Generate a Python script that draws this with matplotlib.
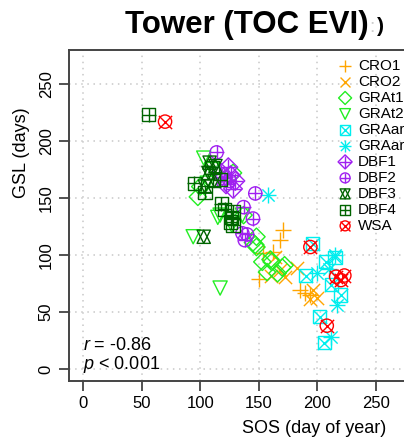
import matplotlib
matplotlib.use("Agg")
import matplotlib.pyplot as plt
from matplotlib.legend_handler import HandlerTuple

plt.rcParams['font.family'] = ['Liberation Sans', 'DejaVu Sans']
plt.rcParams['mathtext.fontset'] = 'custom'
plt.rcParams['mathtext.rm'] = 'Liberation Sans'
plt.rcParams['mathtext.it'] = 'Liberation Sans:italic'

# ---- data (SOS day of year, GSL days) ----
cro1_sos = [171, 168, 154, 162, 150, 189, 194, 185]
cro1_gsl = [122, 113, 102, 103, 79, 67, 65, 69]
cro2_sos = [164, 172, 183, 160, 196, 200, 194, 168]
cro2_gsl = [98, 81, 89, 82, 69, 62, 61, 87]
grat1_sos = [145, 148, 161, 157, 170, 172, 166, 98, 128, 137, 148, 147, 153, 160, 100]
grat1_gsl = [111, 107, 94, 85, 89, 91, 84, 151, 172, 135, 116, 109, 94, 96, 160]
grat2_sos = [103, 106, 115, 117, 127, 136, 94, 117, 110]
grat2_gsl = [185, 163, 133, 135, 126, 135, 116, 71, 175]
graari1_sos = [196, 207, 190, 212, 220, 202, 206, 215]
graari1_gsl = [110, 94, 82, 74, 65, 46, 23, 98]
graari2_sos = [158, 200, 215, 212, 217, 210]
graari2_gsl = [153, 84, 100, 28, 56, 88]
dbf1_sos = [124, 126, 130, 128, 122, 120, 118]
dbf1_gsl = [177, 170, 165, 158, 162, 168, 172]
dbf2_sos = [114, 137, 145, 136, 140, 138, 147, 125]
dbf2_gsl = [190, 142, 132, 119, 118, 113, 154, 165]
dbf3_sos = [108, 113, 107, 104, 103, 112]
dbf3_gsl = [181, 178, 172, 160, 116, 165]
dbf4_sos = [56, 95, 110, 117, 104, 118, 121, 128, 127, 126, 128]
dbf4_gsl = [223, 163, 177, 166, 155, 145, 140, 138, 133, 129, 126]
wsa_sos = [70, 194, 216, 220, 223, 208]
wsa_gsl = [217, 107, 81, 78, 82, 38]

labels = ['CRO1', 'CRO2', 'GRAt1', 'GRAt2', 'GRAari', 'GRAari',
          'DBF1', 'DBF2', 'DBF3', 'DBF4', 'WSA']
x_ticks = [0, 50, 100, 150, 200, 250]
y_ticks = [0, 50, 100, 150, 200, 250]

ORANGE = '#FFA500'
GREEN = '#22EE22'
CYAN = '#00EEEE'
PURPLE = '#A020F0'
DKGREEN = '#006400'
RED = '#FF0000'

W, H = 404, 440
fig = plt.figure(figsize=(W / 100, H / 100), dpi=100)
left_px, right_px, top_px, bot_px = 69, 560, 50, 381
ax = fig.add_axes([left_px / W, 1 - bot_px / H, (right_px - left_px) / W, (bot_px - top_px) / H])
# px per unit: 1.172 (x), 1.14 (y); 0 at px 83 (x) and 369 (y)
ax.set_xlim((left_px - 83) / 1.172, (right_px - 83) / 1.172)
ax.set_ylim(-(bot_px - 369) / 1.14, (369 - top_px) / 1.14)

ax.grid(True, color='#c8c8c8', linestyle=(0, (1, 3)), linewidth=1.1)
ax.set_axisbelow(True)
ax.set_xticks(x_ticks)
ax.set_yticks(y_ticks)
ax.tick_params(direction='out', length=7, width=1.2, labelsize=12, color='#333333', pad=4)
ax.tick_params(axis='y', labelrotation=90)
for lab in ax.get_yticklabels():
    lab.set_va('center')
for s in ax.spines.values():
    s.set_color('#444444')
    s.set_linewidth(1.4)

lw = 1.0
K = 1.3


def sc2(x, y, marker, color, size):
    size = size * K
    if marker in ('+', 'x'):
        return ax.scatter(x, y, marker=marker, color=color, s=size, linewidths=lw, zorder=3)
    return ax.scatter(x, y, marker=marker, facecolors='none', edgecolors=color, s=size,
                      linewidths=lw, zorder=3)


h = []
h.append(sc2(cro1_sos, cro1_gsl, '+', ORANGE, 110))
h.append(sc2(cro2_sos, cro2_gsl, 'x', ORANGE, 70))
h.append(sc2(grat1_sos, grat1_gsl, 'D', GREEN, 60))
h.append(sc2(grat2_sos, grat2_gsl, 'v', GREEN, 80))
h.append((sc2(graari1_sos, graari1_gsl, 's', CYAN, 70), sc2(graari1_sos, graari1_gsl, 'x', CYAN, 70)))
h.append((sc2(graari2_sos, graari2_gsl, '+', CYAN, 90), sc2(graari2_sos, graari2_gsl, 'x', CYAN, 60)))
h.append((sc2(dbf1_sos, dbf1_gsl, 'D', PURPLE, 70), sc2(dbf1_sos, dbf1_gsl, '+', PURPLE, 110)))
h.append((sc2(dbf2_sos, dbf2_gsl, 'o', PURPLE, 70), sc2(dbf2_sos, dbf2_gsl, '+', PURPLE, 70)))
h.append((sc2(dbf3_sos, dbf3_gsl, '^', DKGREEN, 70), sc2(dbf3_sos, dbf3_gsl, 'v', DKGREEN, 70)))
h.append((sc2(dbf4_sos, dbf4_gsl, 's', DKGREEN, 70), sc2(dbf4_sos, dbf4_gsl, '+', DKGREEN, 70)))
h.append((sc2(wsa_sos, wsa_gsl, 'o', RED, 70), sc2(wsa_sos, wsa_gsl, 'x', RED, 70)))

fig.legend(h, labels, loc='upper left', bbox_to_anchor=(339 / W, 1 - 59 / H),
           frameon=False, fontsize=11, handlelength=0.8, handletextpad=0.45,
           labelspacing=0.13, borderaxespad=0, borderpad=0, markerscale=0.75,
           handler_map={tuple: HandlerTuple(ndivide=1)})

fig.text(125 / W, 1 - 25 / H, 'Tower (TOC EVI)', fontsize=22.5, fontweight='bold',
         ha='left', va='center')
fig.text(372 / W, 1 - 27 / H, ':', fontsize=14, color='#cccccc', ha='center', va='center')
fig.text(380 / W, 1 - 26 / H, ')', fontsize=15, fontweight='bold', ha='center', va='center')

fig.text(22 / W, 1 - 153 / H, 'GSL (days)', rotation=90, fontsize=13, ha='center', va='center')
fig.text(314 / W, 1 - 428 / H, 'SOS (day of year)', fontsize=13, ha='center', va='center')

fig.text(83 / W, 1 - 345 / H, r'$\it{r}$ = -0.86', fontsize=13, ha='left', va='center')
fig.text(83 / W, 1 - 364 / H, r'$\it{p}$ < 0.001', fontsize=13, ha='left', va='center')

fig.savefig('out.png', dpi=100)
